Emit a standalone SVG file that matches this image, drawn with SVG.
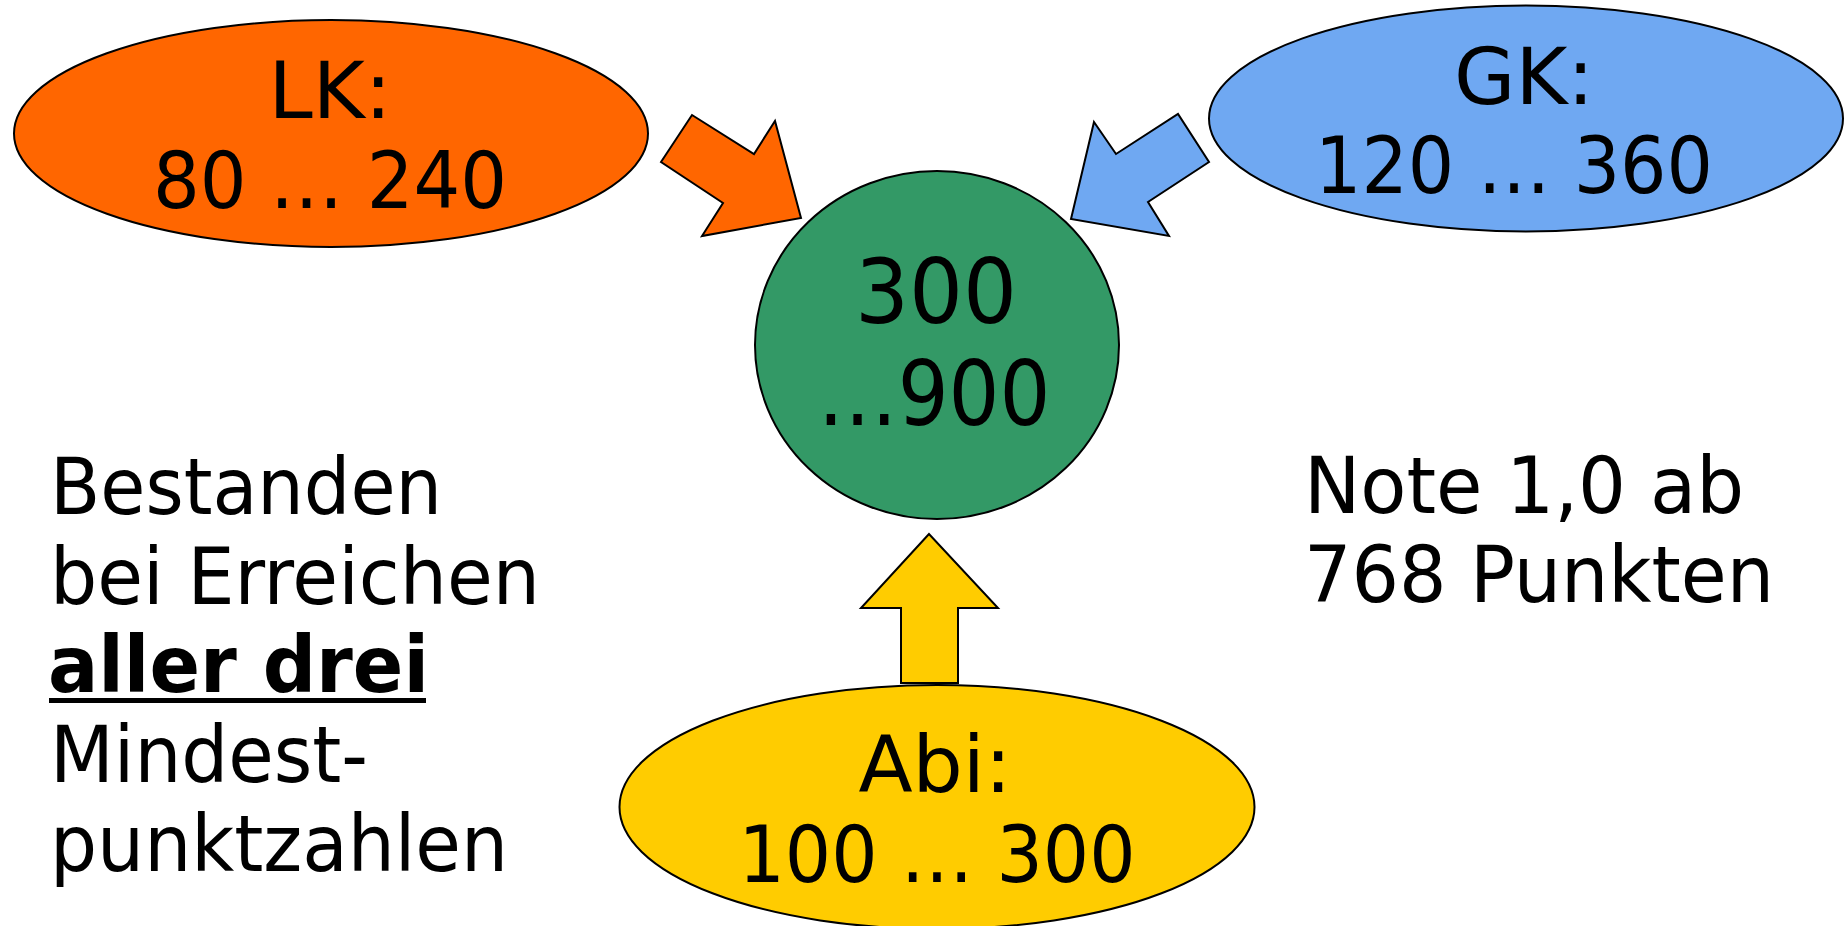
<svg xmlns="http://www.w3.org/2000/svg" width="1845" height="926" viewBox="0 0 1845 926">
<style>
.shape{stroke:#000;stroke-width:2}
.lbl{font-family:"DejaVu Sans Condensed","DejaVu Sans",sans-serif;fill:#000}
.node{font-size:78px;text-anchor:middle}
.big{font-size:89px;text-anchor:middle}
.side{font-size:78px}
</style>
<rect width="1845" height="926" fill="#fff"/>
<g id="connectors">
<polygon class="shape" fill="#FF6600" points="661,162 692,115 754,154 775,121 801,218 702,236 723,203"/>
<polygon class="shape" fill="#6FA8F2" points="1094,122 1116,154 1178,114 1209,162 1148,202 1169,236 1071,219"/>
<polygon class="shape" fill="#FFCC00" points="929,534 861,608 901,608 901,683 958,683 958,608 998,608"/>
</g>
<g id="lk">
<ellipse class="shape" fill="#FF6600" cx="331" cy="133.5" rx="317" ry="113.5"/>
<text class="lbl node" x="330" y="118" textLength="123" lengthAdjust="spacingAndGlyphs">LK:</text>
<text class="lbl node" x="330" y="208" textLength="354" lengthAdjust="spacingAndGlyphs">80 … 240</text>
</g>
<g id="gk">
<ellipse class="shape" fill="#6FA8F2" cx="1526" cy="118.5" rx="317" ry="113"/>
<text class="lbl node" x="1524" y="104" textLength="140" lengthAdjust="spacingAndGlyphs">GK:</text>
<text class="lbl node" x="1514" y="193" textLength="398" lengthAdjust="spacingAndGlyphs">120 … 360</text>
</g>
<g id="total">
<ellipse class="shape" fill="#339966" cx="937" cy="345" rx="182" ry="174"/>
<text class="lbl big" x="936" y="323" textLength="162" lengthAdjust="spacingAndGlyphs">300</text>
<text class="lbl big" x="934" y="425" textLength="233" lengthAdjust="spacingAndGlyphs">…900</text>
</g>
<g id="abi">
<ellipse class="shape" fill="#FFCC00" cx="937" cy="807" rx="317.5" ry="122"/>
<text class="lbl node" x="935" y="792" textLength="153" lengthAdjust="spacingAndGlyphs">Abi:</text>
<text class="lbl node" x="937" y="882" textLength="397" lengthAdjust="spacingAndGlyphs">100 … 300</text>
</g>
<g id="left-note">
<text class="lbl side" x="50" y="514" textLength="392" lengthAdjust="spacingAndGlyphs">Bestanden</text>
<text class="lbl side" x="50" y="604" textLength="490" lengthAdjust="spacingAndGlyphs">bei Erreichen</text>
<text class="lbl side" x="48" y="692" font-weight="bold" textLength="381" lengthAdjust="spacingAndGlyphs">aller drei</text>
<rect x="49" y="698" width="377" height="5" fill="#000"/>
<text class="lbl side" x="50" y="782" textLength="318" lengthAdjust="spacingAndGlyphs">Mindest-</text>
<text class="lbl side" x="50" y="871" textLength="458" lengthAdjust="spacingAndGlyphs">punktzahlen</text>
</g>
<g id="right-note">
<text class="lbl side" x="1304" y="513" textLength="440" lengthAdjust="spacingAndGlyphs">Note 1,0 ab</text>
<text class="lbl side" x="1304" y="602" textLength="470" lengthAdjust="spacingAndGlyphs">768 Punkten</text>
</g>
</svg>
